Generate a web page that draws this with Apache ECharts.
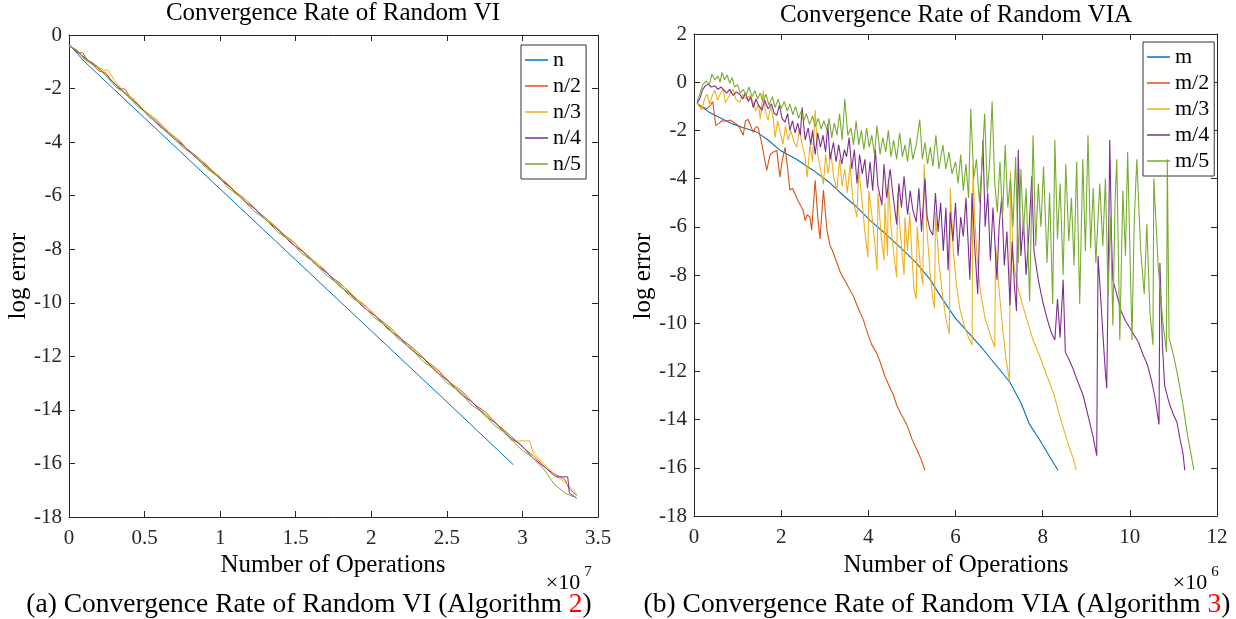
<!DOCTYPE html>
<html><head><meta charset="utf-8">
<script src="https://cdn.jsdelivr.net/npm/echarts@6/dist/echarts.min.js"></script>
<style>html,body{margin:0;padding:0;background:#fff;font-family:"Liberation Serif",serif}#c{width:1236px;height:619px}</style>
</head><body><div id="c"></div>
<script>
const FONT = 'Liberation Serif';
const colors = ['#0072BD', '#D95319', '#EDB120', '#7E2F8E', '#77AC30'];
const leftNames = ['n', 'n/2', 'n/3', 'n/4', 'n/5'];
const rightNames = ['m', 'm/2', 'm/3', 'm/4', 'm/5'];
const leftXAxisRange = [0, 3.5, 0.5];   // x in units of 1e7
const leftYAxisRange = [-18, 0, 2];
const rightXAxisRange = [0, 12, 2];     // x in units of 1e6
const rightYAxisRange = [-18, 2, 2];

// ---- Left chart (Random VI), x in 1e7 operations ----
const vi_n = [[0,-0.35],[0.04,-0.6],[0.1,-0.98],[0.5,-3.1],[1.0,-5.75],[1.5,-8.4],[2.0,-11.05],[2.5,-13.7],[2.94,-16.05]];
const vi_n2 = [[0,-0.4],[0.06,-0.66],[0.09,-0.66],[0.12,-0.92],[0.2,-1.35],[0.24,-1.4],[0.27,-1.62],[0.33,-2.0],[0.37,-2.02],[0.4,-2.28],[0.48,-2.74],[0.55,-3.05],[0.63,-3.5],[0.7,-3.82],[0.78,-4.25],[0.86,-4.6],[0.93,-5.0],[1.0,-5.3],[1.08,-5.76],[1.16,-6.1],[1.24,-6.55],[1.32,-6.92],[1.4,-7.36],[1.48,-7.7],[1.56,-8.15],[1.64,-8.52],[1.72,-8.96],[1.8,-9.3],[1.88,-9.76],[1.96,-10.1],[2.04,-10.55],[2.12,-10.9],[2.2,-11.36],[2.28,-11.7],[2.36,-12.15],[2.44,-12.5],[2.52,-12.98],[2.6,-13.3],[2.68,-13.78],[2.76,-14.1],[2.84,-14.58],[2.92,-14.95],[3.0,-15.38],[3.08,-15.75],[3.16,-16.2],[3.2,-16.35],[3.28,-16.6],[3.31,-16.95],[3.36,-17.2]];
const vi_n3 = [[0,-0.4],[0.05,-0.55],[0.1,-0.9],[0.16,-1.05],[0.22,-1.3],[0.26,-1.32],[0.3,-1.7],[0.36,-2.1],[0.44,-2.45],[0.5,-2.85],[0.58,-3.15],[0.66,-3.62],[0.74,-3.98],[0.8,-4.4],[0.9,-4.78],[0.97,-5.2],[1.04,-5.5],[1.12,-5.95],[1.2,-6.3],[1.28,-6.75],[1.36,-7.1],[1.44,-7.55],[1.52,-7.92],[1.6,-8.35],[1.68,-8.7],[1.76,-9.18],[1.84,-9.5],[1.92,-9.95],[2.0,-10.3],[2.08,-10.8],[2.16,-11.12],[2.24,-11.6],[2.32,-11.92],[2.4,-12.38],[2.48,-12.75],[2.56,-13.2],[2.64,-13.55],[2.72,-14.0],[2.8,-14.35],[2.88,-14.85],[2.93,-15.16],[3.05,-15.16],[3.07,-15.6],[3.14,-16.0],[3.22,-16.45],[3.3,-16.8],[3.36,-17.15]];
const vi_n4 = [[0,-0.38],[0.07,-0.7],[0.13,-0.95],[0.19,-1.2],[0.26,-1.6],[0.32,-1.9],[0.39,-2.3],[0.46,-2.62],[0.53,-3.05],[0.6,-3.38],[0.68,-3.8],[0.76,-4.15],[0.84,-4.58],[0.92,-4.95],[1.0,-5.38],[1.07,-5.7],[1.15,-6.15],[1.23,-6.5],[1.31,-6.95],[1.39,-7.3],[1.47,-7.78],[1.55,-8.1],[1.63,-8.56],[1.71,-8.9],[1.79,-9.38],[1.87,-9.72],[1.95,-10.18],[2.03,-10.5],[2.11,-10.98],[2.19,-11.32],[2.27,-11.78],[2.35,-12.1],[2.43,-12.58],[2.51,-12.92],[2.59,-13.4],[2.67,-13.72],[2.75,-14.2],[2.83,-14.52],[2.91,-15.0],[2.99,-15.3],[3.07,-15.8],[3.15,-16.15],[3.22,-16.5],[3.3,-16.5],[3.31,-17.1],[3.36,-17.3]];
const vi_n5 = [[0,-0.4],[0.06,-0.6],[0.11,-0.95],[0.18,-1.18],[0.25,-1.55],[0.31,-1.95],[0.38,-2.2],[0.45,-2.65],[0.52,-2.95],[0.6,-3.42],[0.67,-3.72],[0.75,-4.18],[0.83,-4.5],[0.91,-4.98],[0.99,-5.3],[1.06,-5.75],[1.14,-6.08],[1.22,-6.56],[1.3,-6.88],[1.38,-7.35],[1.46,-7.68],[1.54,-8.16],[1.62,-8.48],[1.7,-8.96],[1.78,-9.28],[1.86,-9.76],[1.94,-10.08],[2.02,-10.56],[2.1,-10.88],[2.18,-11.36],[2.26,-11.68],[2.34,-12.18],[2.42,-12.5],[2.5,-12.98],[2.58,-13.3],[2.66,-13.8],[2.74,-14.12],[2.82,-14.6],[2.9,-14.92],[2.98,-15.42],[3.06,-15.75],[3.14,-16.2],[3.21,-16.77],[3.28,-17.1],[3.34,-17.25]];

// ---- Right chart (Random VIA), x in 1e6 operations ----
const via_m = [[0.07,-0.87],[0.2,-1.05],[0.35,-1.25],[0.48,-1.37],[0.7,-1.57],[0.9,-1.74],[1.15,-1.9],[1.44,-2.07],[1.7,-2.4],[1.97,-2.82],[2.35,-3.2],[2.73,-3.65],[3.1,-4.15],[3.42,-4.69],[3.75,-5.2],[4.04,-5.73],[4.4,-6.3],[4.8,-6.97],[5.1,-7.5],[5.41,-8.17],[5.7,-9.0],[6.0,-9.8],[6.3,-10.4],[6.63,-11.08],[7.0,-11.9],[7.25,-12.45],[7.5,-13.3],[7.7,-14.2],[7.95,-14.9],[8.15,-15.5],[8.35,-16.1]];
const via_m2 = [[0.07,-0.87],[0.15,-1.0],[0.3,-1.1],[0.38,-0.95],[0.43,-0.8],[0.5,-1.8],[0.58,-1.7],[0.64,-1.6],[0.72,-1.62],[0.83,-1.57],[0.9,-1.65],[0.98,-1.74],[1.05,-1.9],[1.13,-2.2],[1.18,-1.6],[1.24,-1.55],[1.3,-1.8],[1.36,-2.08],[1.42,-1.85],[1.47,-1.87],[1.55,-2.5],[1.62,-3.2],[1.67,-3.66],[1.72,-3.2],[1.75,-3.0],[1.82,-2.9],[1.9,-2.82],[1.97,-3.94],[2.02,-3.3],[2.09,-2.7],[2.15,-3.6],[2.2,-4.48],[2.26,-4.4],[2.32,-4.65],[2.38,-4.9],[2.43,-5.06],[2.5,-5.3],[2.55,-5.73],[2.6,-5.5],[2.66,-5.6],[2.7,-6.14],[2.78,-4.07],[2.84,-5.6],[2.89,-6.5],[2.97,-4.48],[3.05,-6.14],[3.12,-6.76],[3.2,-7.1],[3.28,-7.5],[3.35,-7.85],[3.42,-8.1],[3.5,-8.35],[3.57,-8.6],[3.65,-8.85],[3.75,-9.3],[3.88,-9.83],[3.98,-10.4],[4.08,-10.9],[4.18,-11.2],[4.27,-11.6],[4.38,-12.2],[4.5,-12.7],[4.58,-13.0],[4.65,-13.4],[4.76,-13.8],[4.88,-14.2],[5.0,-14.8],[5.1,-15.2],[5.2,-15.6],[5.3,-16.1]];
const via_m3 = [[0.07,-0.85],[0.12,-1.0],[0.18,-1.15],[0.24,-0.7],[0.3,-0.5],[0.36,-0.9],[0.42,-0.55],[0.48,-0.33],[0.54,-0.75],[0.6,-0.5],[0.67,-0.28],[0.72,-0.85],[0.8,-0.6],[0.85,-0.4],[0.9,-0.3],[0.96,-0.7],[1.05,-0.83],[1.12,-0.5],[1.2,-0.7],[1.28,-0.55],[1.35,-0.8],[1.42,-1.2],[1.48,-0.9],[1.52,-1.53],[1.59,-0.35],[1.64,-1.2],[1.7,-1.58],[1.76,-1.0],[1.82,-1.5],[1.86,-2.3],[1.92,-1.6],[1.98,-2.1],[2.04,-2.58],[2.1,-1.8],[2.16,-2.4],[2.22,-2.0],[2.3,-2.5],[2.36,-2.7],[2.42,-1.9],[2.48,-2.6],[2.54,-3.0],[2.6,-3.94],[2.66,-2.6],[2.72,-3.3],[2.78,-1.16],[2.84,-3.0],[2.9,-3.6],[2.97,-4.23],[3.02,-3.0],[3.08,-3.8],[3.14,-2.9],[3.2,-3.9],[3.28,-4.48],[3.34,-3.2],[3.4,-4.3],[3.46,-3.6],[3.52,-4.6],[3.58,-3.4],[3.64,-4.8],[3.7,-5.3],[3.74,-5.6],[3.78,-3.6],[3.86,-5.0],[3.92,-6.2],[3.99,-7.26],[4.01,-4.5],[4.1,-5.8],[4.16,-6.9],[4.2,-7.8],[4.22,-4.6],[4.3,-6.5],[4.36,-7.4],[4.38,-5.0],[4.44,-7.2],[4.46,-4.0],[4.52,-6.0],[4.6,-7.4],[4.65,-8.1],[4.67,-4.6],[4.74,-6.4],[4.82,-8.0],[4.84,-5.6],[4.9,-7.0],[4.95,-5.4],[5.0,-7.2],[5.05,-8.6],[5.1,-9.0],[5.12,-6.0],[5.2,-7.8],[5.25,-8.4],[5.28,-3.4],[5.34,-6.0],[5.42,-8.0],[5.48,-9.0],[5.52,-9.4],[5.54,-5.4],[5.62,-7.5],[5.7,-8.8],[5.78,-9.8],[5.86,-10.45],[5.88,-4.4],[5.95,-7.0],[6.02,-8.4],[6.1,-9.4],[6.2,-10.1],[6.3,-10.6],[6.38,-10.9],[6.4,-3.4],[6.44,-5.6],[6.5,-7.4],[6.58,-8.8],[6.68,-9.8],[6.8,-10.5],[6.9,-11.0],[6.92,-6.8],[7.0,-8.6],[7.08,-10.2],[7.16,-11.5],[7.24,-12.4],[7.26,-3.7],[7.32,-7.3],[7.4,-8.3],[7.5,-9.0],[7.63,-9.8],[7.78,-10.7],[7.94,-11.4],[8.1,-12.2],[8.25,-12.9],[8.4,-13.9],[8.5,-14.5],[8.6,-15.1],[8.7,-15.6],[8.77,-16.1]];
const via_m4 = [[0.07,-0.85],[0.13,-0.7],[0.2,-0.3],[0.26,-0.15],[0.32,-0.08],[0.4,-0.2],[0.48,-0.15],[0.55,-0.3],[0.62,-0.2],[0.67,-0.3],[0.75,-0.45],[0.82,-0.3],[0.9,-0.55],[0.97,-0.4],[1.05,-0.5],[1.12,-0.7],[1.18,-0.45],[1.25,-0.8],[1.3,-0.6],[1.36,-1.05],[1.42,-0.7],[1.48,-0.95],[1.56,-1.16],[1.62,-0.75],[1.7,-1.1],[1.78,-0.9],[1.84,-1.3],[1.9,-1.37],[1.96,-0.95],[2.02,-1.5],[2.09,-1.66],[2.15,-1.3],[2.2,-2.0],[2.26,-1.6],[2.32,-2.1],[2.38,-1.7],[2.44,-2.2],[2.48,-1.04],[2.55,-2.4],[2.62,-1.9],[2.68,-2.6],[2.72,-2.0],[2.78,-3.0],[2.84,-2.1],[2.9,-2.7],[2.96,-2.2],[3.02,-2.9],[3.07,-1.74],[3.12,-3.2],[3.2,-2.5],[3.26,-3.3],[3.32,-2.6],[3.39,-3.4],[3.45,-2.8],[3.5,-3.1],[3.56,-2.3],[3.62,-3.6],[3.68,-2.8],[3.74,-4.2],[3.8,-3.0],[3.86,-3.8],[3.92,-3.2],[3.98,-4.4],[4.04,-3.3],[4.1,-4.5],[4.16,-2.8],[4.22,-4.3],[4.31,-5.1],[4.36,-3.4],[4.42,-4.8],[4.5,-3.6],[4.56,-4.6],[4.65,-5.9],[4.7,-4.2],[4.76,-5.2],[4.82,-3.9],[4.9,-5.5],[4.96,-4.5],[5.02,-5.3],[5.1,-5.8],[5.16,-4.4],[5.22,-6.2],[5.3,-4.0],[5.35,-5.6],[5.41,-6.1],[5.48,-6.35],[5.54,-4.6],[5.6,-6.2],[5.66,-5.0],[5.72,-7.0],[5.78,-5.2],[5.83,-7.8],[5.88,-5.4],[5.94,-6.6],[6.0,-5.0],[6.06,-7.2],[6.12,-5.6],[6.18,-6.4],[6.24,-4.8],[6.33,-8.2],[6.38,-4.6],[6.44,-6.8],[6.51,-8.8],[6.57,-5.0],[6.63,-2.4],[6.68,-6.0],[6.74,-4.6],[6.8,-7.4],[6.86,-5.2],[6.95,-8.2],[7.0,-6.0],[7.06,-4.8],[7.12,-7.6],[7.18,-6.2],[7.25,-9.25],[7.3,-6.6],[7.35,-8.4],[7.4,-9.5],[7.44,-2.8],[7.5,-7.2],[7.56,-5.8],[7.62,-8.0],[7.68,-6.4],[7.75,-3.9],[7.8,-7.0],[7.9,-8.2],[8.0,-9.1],[8.1,-9.8],[8.2,-10.4],[8.28,-10.7],[8.34,-9.0],[8.4,-10.6],[8.47,-8.2],[8.52,-11.2],[8.6,-11.5],[8.7,-11.9],[8.8,-12.4],[8.93,-13.0],[9.05,-13.9],[9.15,-14.65],[9.24,-15.5],[9.27,-7.2],[9.32,-8.6],[9.38,-10.4],[9.43,-11.8],[9.47,-12.7],[9.5,-8.6],[9.54,-2.4],[9.58,-6.5],[9.61,-8.2],[9.7,-8.8],[9.8,-9.5],[9.9,-9.9],[10.0,-10.2],[10.1,-10.5],[10.2,-10.8],[10.3,-11.3],[10.4,-11.7],[10.5,-12.4],[10.57,-13.0],[10.67,-14.2],[10.69,-7.5],[10.75,-11.0],[10.8,-12.6],[10.9,-13.3],[11.0,-13.8],[11.08,-14.1],[11.15,-14.8],[11.22,-15.4],[11.26,-16.1]];
const via_m5 = [[0.07,-0.8],[0.15,-0.4],[0.2,-0.1],[0.28,0.05],[0.35,-0.1],[0.41,0.33],[0.48,0.1],[0.55,0.25],[0.6,0.0],[0.64,0.41],[0.7,0.1],[0.76,0.3],[0.82,-0.05],[0.87,0.2],[0.93,-0.2],[1.0,-0.1],[1.06,-0.45],[1.13,-0.3],[1.2,-0.55],[1.26,-0.2],[1.33,-0.6],[1.4,-0.35],[1.46,-0.7],[1.52,-0.45],[1.58,-0.8],[1.65,-0.5],[1.72,-0.95],[1.8,-0.6],[1.86,-1.05],[1.93,-0.7],[2.0,-1.1],[2.07,-0.8],[2.14,-1.2],[2.2,-0.9],[2.27,-1.35],[2.33,-1.0],[2.4,-1.5],[2.46,-1.2],[2.52,-1.6],[2.58,-1.3],[2.65,-1.75],[2.72,-1.4],[2.78,-1.85],[2.85,-1.5],[2.92,-1.95],[2.98,-1.6],[3.05,-2.0],[3.1,-1.5],[3.16,-2.3],[3.22,-1.7],[3.28,-2.2],[3.34,-1.3],[3.4,-2.4],[3.46,-0.7],[3.53,-2.2],[3.6,-1.9],[3.66,-2.6],[3.72,-1.6],[3.78,-2.6],[3.84,-2.0],[3.9,-2.8],[3.96,-1.9],[4.02,-2.7],[4.08,-2.2],[4.14,-3.0],[4.2,-1.8],[4.27,-3.0],[4.33,-2.3],[4.4,-2.9],[4.46,-2.0],[4.52,-3.1],[4.58,-2.4],[4.65,-3.2],[4.72,-2.1],[4.78,-3.1],[4.84,-2.6],[4.9,-3.3],[4.96,-2.3],[5.02,-3.2],[5.1,-2.6],[5.18,-1.55],[5.24,-3.2],[5.3,-2.5],[5.36,-3.4],[5.42,-2.7],[5.48,-3.5],[5.55,-2.2],[5.62,-3.6],[5.71,-2.6],[5.78,-3.6],[5.85,-2.9],[5.92,-3.8],[6.0,-3.3],[6.06,-4.2],[6.12,-3.0],[6.18,-4.5],[6.24,-3.4],[6.3,-4.8],[6.35,-1.1],[6.42,-4.0],[6.48,-3.2],[6.55,-5.0],[6.6,-3.6],[6.67,-1.3],[6.73,-4.6],[6.78,-3.4],[6.84,-0.8],[6.9,-4.2],[6.96,-5.4],[7.02,-3.3],[7.08,-5.6],[7.14,-2.6],[7.2,-5.2],[7.26,-4.0],[7.32,-6.0],[7.38,-3.1],[7.44,-7.5],[7.5,-3.6],[7.56,-6.2],[7.62,-4.4],[7.7,-9.1],[7.78,-2.2],[7.84,-6.8],[7.9,-4.2],[7.96,-6.0],[8.02,-3.5],[8.1,-7.5],[8.16,-4.6],[8.23,-9.2],[8.28,-2.4],[8.34,-6.5],[8.4,-4.2],[8.47,-8.0],[8.53,-3.4],[8.6,-6.6],[8.66,-4.8],[8.72,-7.6],[8.78,-3.3],[8.85,-9.2],[8.92,-3.2],[8.98,-7.0],[9.04,-2.2],[9.1,-6.9],[9.16,-4.4],[9.22,-7.5],[9.31,-4.2],[9.38,-6.8],[9.44,-4.0],[9.5,-8.8],[9.56,-5.6],[9.61,-10.1],[9.66,-5.0],[9.7,-3.2],[9.77,-10.7],[9.84,-4.5],[9.9,-7.2],[9.95,-2.9],[10.05,-10.7],[10.1,-5.8],[10.16,-3.2],[10.25,-7.0],[10.33,-8.8],[10.39,-5.9],[10.46,-9.5],[10.53,-10.9],[10.55,-4.0],[10.65,-7.6],[10.75,-9.8],[10.84,-11.2],[10.86,-3.2],[10.9,-10.6],[11.0,-11.3],[11.1,-12.2],[11.22,-13.4],[11.32,-14.6],[11.4,-15.4],[11.47,-16.1]];

const leftData = [vi_n, vi_n2, vi_n3, vi_n4, vi_n5];
const rightData = [via_m, via_m2, via_m3, via_m4, via_m5];

const AX = '#262626';
function xAxisDef(gi, r, pos) {
  return {type:'value', gridIndex:gi, min:r[0], max:r[1], interval:r[2], position:pos,
    axisLine:{show:true, onZero:false, lineStyle:{color:AX, width:1}},
    axisTick:{show:true, inside:true, length:6, lineStyle:{color:AX, width:1}},
    axisLabel:{show:pos==='bottom', color:AX, fontFamily:FONT, fontSize:21, margin:11, showMinLabel:true, showMaxLabel:true},
    splitLine:{show:false}};
}
function yAxisDef(gi, r, pos) {
  return {type:'value', gridIndex:gi, min:r[0], max:r[1], interval:r[2], position:pos,
    axisLine:{show:true, onZero:false, lineStyle:{color:AX, width:1}},
    axisTick:{show:true, inside:true, length:6, lineStyle:{color:AX, width:1}},
    axisLabel:{show:pos==='left', color:AX, fontFamily:FONT, fontSize:21, margin:7, showMinLabel:true, showMaxLabel:true},
    splitLine:{show:false}};
}
function mk(name, data, ci, xi, yi, w) {
  return {name, type:'line', data, xAxisIndex:xi, yAxisIndex:yi, showSymbol:false, symbol:'none',
    lineStyle:{width:w, color:colors[ci]}, itemStyle:{color:colors[ci]}, animation:false, silent:true, z:2+ci};
}
const series = [];
leftData.forEach((d, i) => series.push(mk(leftNames[i], d, i, 0, 0, 1)));
rightData.forEach((d, i) => series.push(mk(rightNames[i], d, i, 2, 2, 1.1)));

function legendDef(names, left, top) {
  return {data:names.map(n => ({name:n, textStyle:{fontFamily:FONT, fontSize:22, color:'#000'}})),
    orient:'vertical', left, top, icon:'rect', itemWidth:23, itemHeight:1.5, itemGap:4,
    padding:[4, 5, 4, 4], borderColor:'#333', borderWidth:1, backgroundColor:'#fff',
    textStyle:{fontFamily:FONT, fontSize:22, color:'#000', lineHeight:22}, selectedMode:false};
}
function txt(x, y, text, size, extra) {
  return Object.assign({type:'text', x, y, silent:true, z:100,
    style:{text, fill:'#000', font:size + 'px "' + FONT + '"', textAlign:'center', textVerticalAlign:'middle'}}, extra || {});
}
const graphics = [
  txt(333, 13, 'Convergence Rate of Random VI', 25),
  txt(956, 15, 'Convergence Rate of Random VIA', 25),
  txt(333, 565, 'Number of Operations', 25),
  txt(956, 565, 'Number of Operations', 25),
  txt(18, 276, 'log error', 25, {rotation: Math.PI/2}),
  txt(643, 276, 'log error', 25, {rotation: Math.PI/2}),
  txt(563, 583, '\u00d710', 22),
  txt(588, 572, '7', 15),
  txt(1190, 583, '\u00d710', 22),
  txt(1215, 572, '6', 15),
  {type:'text', x:309, y:605, silent:true, z:100, style:{text:'(a) Convergence Rate of Random VI (Algorithm {r|2})', fill:'#000', font:'27.5px "' + FONT + '"', textAlign:'center', textVerticalAlign:'middle', rich:{r:{fill:'#ff0000', fontSize:27.5, fontFamily:FONT}}}},
  {type:'text', x:937, y:605, silent:true, z:100, style:{text:'(b) Convergence Rate of Random VIA (Algorithm {r|3})', fill:'#000', font:'27.5px "' + FONT + '"', textAlign:'center', textVerticalAlign:'middle', rich:{r:{fill:'#ff0000', fontSize:27.5, fontFamily:FONT}}}}
];

const chart = echarts.init(document.getElementById('c'), null, {renderer:'canvas'});
chart.setOption({
  animation:false,
  backgroundColor:'#fff',
  textStyle:{fontFamily:FONT},
  grid:[{left:69, top:35, width:529, height:482}, {left:694, top:34, width:523, height:482}],
  xAxis:[xAxisDef(0, leftXAxisRange, 'bottom'), xAxisDef(0, leftXAxisRange, 'top'), xAxisDef(1, rightXAxisRange, 'bottom'), xAxisDef(1, rightXAxisRange, 'top')],
  yAxis:[yAxisDef(0, leftYAxisRange, 'left'), yAxisDef(0, leftYAxisRange, 'right'), yAxisDef(1, rightYAxisRange, 'left'), yAxisDef(1, rightYAxisRange, 'right')],
  legend:[legendDef(leftNames, 521, 45), legendDef(rightNames, 1143, 42)],
  series,
  graphic:graphics
});
</script></body></html>
